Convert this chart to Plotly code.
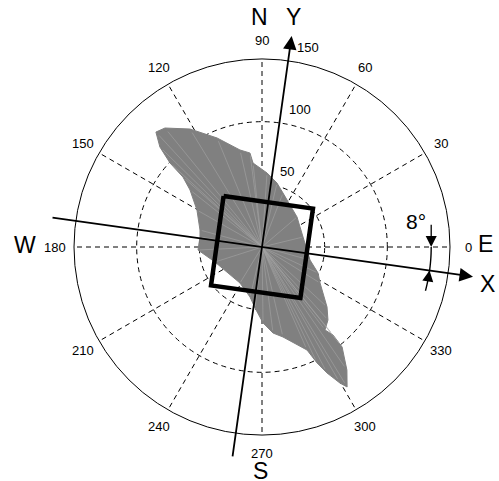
import numpy as np
import plotly.graph_objects as go

# ---- data -------------------------------------------------------------
# Outline of the fan of velocity vectors (polar: degrees, cm/s), traced clockwise
CLOUD_THETA = [132.7, 129.2, 121.4, 112.4, 102.8, 97.3, 96.1, 86.1, 76.8, 68.7,
               40.6, 13.7, -15.2, -24.9, -31.8, -42.7, -47.9, -52.8, -51.1, -51.3,
               -55.4, -58.7, -60.2, -62.7, -64.6, -66.4, -76.9, -82.7, -89.2, -96.5,
               -103.5, -121.4, -162.3, -177.3, 170.8, 164.7, 150.4, 141.6, 138.5,
               137.6, 135.6]
CLOUD_R = [124.8, 122.5, 110.3, 94.1, 79.4, 75.6, 67.4, 59.2, 52.4, 46.2,
           36.8, 33.7, 39.7, 49.3, 54.5, 70.6, 78.5, 83.1, 90.2, 102.2,
           119.3, 130.7, 125.1, 113.1, 102.4, 89.7, 73.7, 69.2, 60.6, 49.0,
           41.0, 33.7, 39.4, 51.1, 50.1, 51.3, 59.7, 73.3, 84.2,
           99.4, 114.0]

R_MAX = 150
RING_VALUES = [50, 100]
SPOKE_ANGLES = list(range(0, 360, 30))
ANGLE_LABELS = [str(a) for a in SPOKE_ANGLES]
ANGLE_LABEL_R = 165

RADIAL_LABELS = ["50", "100", "150"]
RADIAL_LABEL_R = [63.8, 114.2, 163.7]
RADIAL_LABEL_THETA = [71.8, 74.6, 77.0]

COMPASS_LABELS = ["N", "S", "W", "E"]
COMPASS_R = [183.5, 178.7, 189.0, 178.0]
COMPASS_THETA = [90.5, 269.5, 179.5, 0.8]

FRAME_ROTATION = -8          # X/Y frame turned 8 degrees clockwise
FRAME_LABELS = ["X", "Y"]
FRAME_LABEL_R = [182.7, 185.3]
FRAME_LABEL_THETA = [FRAME_ROTATION - 1.3, 90 + FRAME_ROTATION + 0.1]
FRAME_AXIS_LEN = 170
SQUARE_HALF = 36              # half side of the box in the X/Y frame
ANGLE_MARK_R = 135            # radius of the 8 degree dimension mark

# ---- page geometry ----------------------------------------------------
W, H = 499, 481
CX, CY = 262, 247             # centre of the polar plot in pixels
RPX = 188                     # pixel radius of the outer circle
scale = RPX / R_MAX

FONT = "Liberation Sans, Arial, sans-serif"


def pol2xy(r, theta_deg):
    t = np.deg2rad(theta_deg)
    return float(r * np.cos(t)), float(r * np.sin(t))


fig = go.Figure()

# filled fan of vectors
fig.add_trace(go.Scatterpolar(
    r=CLOUD_R + [CLOUD_R[0]], theta=CLOUD_THETA + [CLOUD_THETA[0]],
    mode="lines", fill="toself", fillcolor="rgb(128,128,128)",
    line=dict(color="rgb(128,128,128)", width=1), hoverinfo="skip"))

# individual vector strokes from the origin
ray_r, ray_t = [], []
for r, t in zip(CLOUD_R, CLOUD_THETA):
    ray_r += [0, r * 0.97, None]
    ray_t += [t, t, None]
fig.add_trace(go.Scatterpolar(
    r=ray_r, theta=ray_t, mode="lines", connectgaps=False,
    line=dict(color="rgb(165,165,165)", width=0.6), hoverinfo="skip"))

# square aligned with the rotated X/Y frame
sq_x = np.array([-1, 1, 1, -1, -1]) * SQUARE_HALF
sq_y = np.array([1, 1, -1, -1, 1]) * SQUARE_HALF
sq_r = np.hypot(sq_x, sq_y)
sq_t = np.rad2deg(np.arctan2(sq_y, sq_x)) + FRAME_ROTATION
fig.add_trace(go.Scatterpolar(
    r=sq_r, theta=sq_t, mode="lines",
    line=dict(color="black", width=4.5), hoverinfo="skip"))

# arc of the 8 degree dimension mark
arc_t = np.linspace(0, FRAME_ROTATION - 7, 30)
fig.add_trace(go.Scatterpolar(
    r=[ANGLE_MARK_R] * len(arc_t), theta=arc_t, mode="lines",
    line=dict(color="black", width=1.4), hoverinfo="skip"))

# invisible cartesian layer carrying arrows and labels
fig.add_trace(go.Scatter(x=[0], y=[0], mode="markers",
                         marker=dict(opacity=0), hoverinfo="skip"))

annotations = []


def label(r, theta, text, size):
    x, y = pol2xy(r, theta)
    annotations.append(dict(x=x, y=y, xref="x", yref="y", text=text,
                            showarrow=False, xanchor="center", yanchor="middle",
                            font=dict(family=FONT, size=size, color="black")))


def arrow(tail, tip, width, size):
    annotations.append(dict(
        x=tip[0], y=tip[1], ax=tail[0], ay=tail[1],
        xref="x", yref="y", axref="x", ayref="y", text="",
        showarrow=True, arrowhead=2, arrowsize=size, arrowwidth=width,
        arrowcolor="black", standoff=0))


for ang, txt in zip(SPOKE_ANGLES, ANGLE_LABELS):
    label(ANGLE_LABEL_R, ang, txt, 13)
for r, t, txt in zip(RADIAL_LABEL_R, RADIAL_LABEL_THETA, RADIAL_LABELS):
    label(r, t, txt, 13)
for r, t, txt in zip(COMPASS_R, COMPASS_THETA, COMPASS_LABELS):
    label(r, t, txt, 23)
for r, t, txt in zip(FRAME_LABEL_R, FRAME_LABEL_THETA, FRAME_LABELS):
    label(r, t, txt, 23)

# rotated X and Y axes
arrow(pol2xy(FRAME_AXIS_LEN, 180 + FRAME_ROTATION),
      pol2xy(FRAME_AXIS_LEN, FRAME_ROTATION), 1.8, 1.5)
arrow(pol2xy(FRAME_AXIS_LEN, 270 + FRAME_ROTATION),
      pol2xy(FRAME_AXIS_LEN, 90 + FRAME_ROTATION), 1.8, 1.5)

# 8 degree dimension arrows
top_tip = pol2xy(ANGLE_MARK_R, 0)
arrow((top_tip[0], top_tip[1] + 19), top_tip, 1.3, 1.7)
arrow(pol2xy(ANGLE_MARK_R, FRAME_ROTATION - 2.5),
      pol2xy(ANGLE_MARK_R, FRAME_ROTATION), 1.3, 1.7)

annotations.append(dict(x=top_tip[0] - 12, y=top_tip[1] + 20, xref="x", yref="y",
                        text="8°", showarrow=False,
                        font=dict(family=FONT, size=21, color="black")))

fig.update_layout(
    width=W, height=H,
    margin=dict(l=0, r=0, t=0, b=0),
    paper_bgcolor="white", plot_bgcolor="rgba(0,0,0,0)",
    showlegend=False, hovermode=False,
    xaxis=dict(range=[-CX / scale, (W - CX) / scale], visible=False,
               fixedrange=True),
    yaxis=dict(range=[-(H - CY) / scale, CY / scale], visible=False,
               fixedrange=True),
    polar=dict(
        domain=dict(x=[(CX - RPX) / W, (CX + RPX) / W],
                    y=[(H - CY - RPX) / H, (H - CY + RPX) / H]),
        bgcolor="white",
        radialaxis=dict(range=[0, R_MAX], tickvals=RING_VALUES,
                        showticklabels=False, ticks="", showline=False,
                        gridcolor="black", griddash="5px,4px", gridwidth=1),
        angularaxis=dict(tickvals=SPOKE_ANGLES, showticklabels=False,
                         ticks="", showline=True, linecolor="black",
                         linewidth=1, gridcolor="black",
                         griddash="5px,4px", gridwidth=1,
                         rotation=0, direction="counterclockwise"),
    ),
    annotations=annotations,
)

fig.write_html("out.html")
